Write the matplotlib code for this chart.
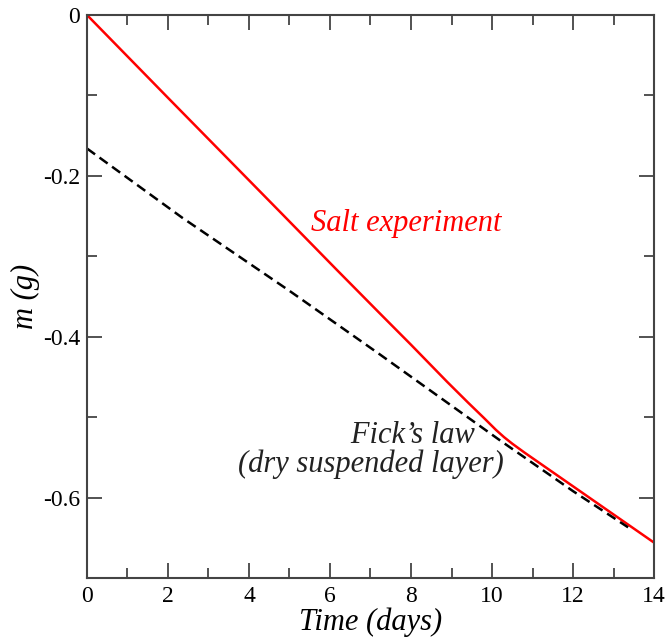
import numpy as np
import matplotlib
matplotlib.use('Agg')
import matplotlib.pyplot as plt
from matplotlib.ticker import MultipleLocator

# salt experiment (red solid)
salt_t = [0, 2, 4.77, 6.17, 7.23, 8.0, 8.89, 9.41, 9.8, 10.1, 10.3, 10.5, 10.8, 11.2, 12, 13, 14]
salt_m = [0, -0.103, -0.245, -0.317, -0.371, -0.410, -0.456, -0.482, -0.501, -0.516, -0.525, -0.533,
          -0.544, -0.558, -0.586, -0.621, -0.656]

# Fick's law model (black dashed)
fick_t = [0, 2.35, 5, 7.23, 10.2, 12, 13.36]
fick_m = [-0.166, -0.252, -0.343, -0.422, -0.529, -0.592, -0.637]

plt.rcParams['font.family'] = ['Liberation Serif', 'DejaVu Serif']

fig = plt.figure(figsize=(6.66, 6.4), dpi=100)
ax = fig.add_axes([0.1306, 0.0969, 0.8514, 0.8797])

ax.plot(salt_t, salt_m, color='#ff0000', lw=1.8)
ax.plot(fick_t, fick_m, color='black', lw=1.8, ls=(0, (4, 2.2)))

ax.set_xlim(0, 14)
ax.set_ylim(-0.7, 0)
ax.xaxis.set_major_locator(MultipleLocator(2))
ax.xaxis.set_minor_locator(MultipleLocator(1))
ax.yaxis.set_minor_locator(MultipleLocator(0.1))
ax.set_yticks([0, -0.2, -0.4, -0.6])
ax.set_yticklabels(['0', '-0.2', '-0.4', '-0.6'])

ax.tick_params(which='both', direction='in', top=True, right=True,
               labelsize=17, color='#444444', width=1.3)
ax.tick_params(which='major', length=11, pad=5)
ax.tick_params(axis='x', which='major', pad=6)
ax.tick_params(which='minor', length=7)
for s in ax.spines.values():
    s.set_color('#444444')
    s.set_linewidth(1.5)

ax.set_xlabel('Time (days)', fontsize=22, style='italic', labelpad=0)
ax.set_ylabel('m (g)', fontsize=22, style='italic', labelpad=2)

ax.text(7.89, -0.268, 'Salt experiment', color='#ff0000', fontsize=22,
        style='italic', ha='center', va='baseline')
ax.text(7.01, -0.568, '           Fick\u2019s law\n(dry suspended layer)',
        color='#222222', fontsize=22, style='italic', ha='center',
        va='baseline', multialignment='center', linespacing=0.95)

fig.savefig('out.png', dpi=100)
